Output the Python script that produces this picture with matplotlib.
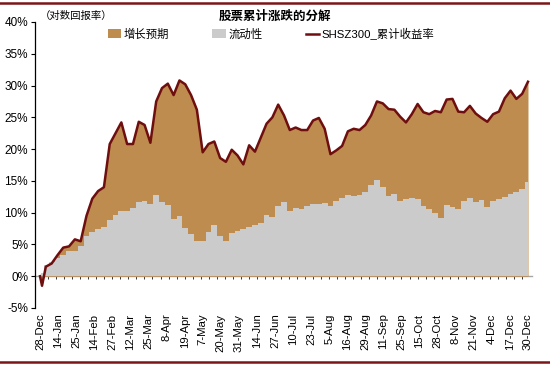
import matplotlib
matplotlib.use("Agg")
import matplotlib.pyplot as plt
import numpy as np
from matplotlib.lines import Line2D

plt.rcParams['font.family'] = ['Liberation Sans', 'Noto Sans CJK SC', 'DejaVu Sans']

# trading-day index of each sample (0 = 28-Dec, 243 = 30-Dec)
days = np.r_[0, 1, np.linspace(0, 243, 85)[1:]]

total = [0.0, -1.5, 1.5, 2.0, 3.3, 4.5, 4.7, 5.8, 5.5, 9.5, 12.2,
         13.4, 14.0, 20.8, 22.5, 24.2, 20.8, 20.8, 24.3, 23.8, 21.0,
         27.5, 29.6, 30.3, 28.5, 30.8, 30.2, 28.5, 26.2, 19.5, 20.8,
         21.2, 18.6, 18.0, 19.9, 19.0, 17.6, 20.6, 19.6, 21.8, 24.0,
         25.0, 27.0, 25.3, 23.0, 23.4, 23.0, 23.0, 24.5, 24.9, 23.2,
         19.2, 19.8, 20.5, 22.8, 23.2, 23.0, 23.8, 25.3, 27.5, 27.2,
         26.3, 26.2, 25.1, 24.2, 25.5, 27.1, 25.8, 25.5, 26.0, 25.8,
         27.8, 27.9, 25.9, 25.8, 26.8, 25.6, 24.9, 24.3, 25.5, 25.9,
         28.0, 29.2, 27.9, 28.7, 30.6]

liquidity = [0.0, 0.5, 1.8, 2.3, 2.8, 3.3, 4.0, 4.0, 4.8, 6.3, 6.9,
             7.4, 7.7, 8.8, 9.6, 10.3, 10.2, 10.8, 11.6, 11.8, 11.4,
             12.8, 11.7, 11.2, 9.0, 9.5, 7.6, 6.7, 5.6, 5.5, 7.0,
             8.0, 6.3, 5.5, 6.8, 7.1, 7.5, 7.8, 8.0, 8.3, 9.6,
             9.3, 11.0, 11.6, 10.3, 10.8, 10.5, 11.0, 11.3, 11.3, 11.5,
             11.0, 11.9, 12.3, 12.8, 12.6, 12.8, 13.2, 14.3, 15.2, 14.0,
             12.6, 12.9, 11.8, 12.2, 12.3, 12.2, 11.0, 10.5, 10.0, 9.2,
             11.2, 10.9, 10.5, 11.8, 12.3, 11.6, 12.0, 10.9, 11.8, 12.1,
             12.5, 12.9, 13.2, 13.8, 14.9]

date_labels = ['28-Dec', '14-Jan', '25-Jan', '14-Feb', '27-Feb', '12-Mar', '25-Mar',
               '8-Apr', '19-Apr', '7-May', '20-May', '31-May', '14-Jun', '27-Jun',
               '10-Jul', '23-Jul', '5-Aug', '16-Aug', '29-Aug', '11-Sep', '25-Sep',
               '15-Oct', '28-Oct', '8-Nov', '21-Nov', '4-Dec', '17-Dec', '30-Dec']
label_days = np.arange(0, 9 * len(date_labels), 9)

brown = '#BF8C4F'
grey = '#CBCBCB'
dark_red = '#6E0E0E'

fig = plt.figure(figsize=(5.5, 3.66), dpi=100)
ax = fig.add_axes([35 / 550, 1 - 308 / 366, 497 / 550, 286 / 366])

tot = np.array(total)
liq = np.array(liquidity)
ax.fill_between(days, 0, tot, color=brown, lw=0, label='增长预期')
ax.fill_between(days, 0, liq, color=grey, lw=0, step='mid', label='流动性')
ax.plot(days, tot, color=dark_red, lw=1.8, label='SHSZ300_累计收益率')

ax.set_xlim(-2.5, 245)
ax.set_ylim(-5, 40)
ax.set_yticks(np.arange(-5, 41, 5))
ax.set_yticklabels([f'{v}%' for v in range(-5, 41, 5)], fontsize=8.5)
ax.tick_params(axis='y', length=3, width=0.8, pad=2)

for s in ['top', 'right', 'bottom']:
    ax.spines[s].set_visible(False)
ax.spines['left'].set_linewidth(0.9)

ax.set_xticks(label_days)
ax.set_xticklabels(date_labels, rotation=90, fontsize=8.2)
ax.tick_params(axis='x', length=0, pad=4)

zero_axis = ax.secondary_xaxis(5 / 45)
zero_axis.set_xticks(np.arange(0, 244, 4))
zero_axis.set_xticklabels([])
zero_axis.tick_params(length=2.5, width=0.7, direction='out', colors='#333333')
zero_axis.spines['bottom'].set_color('#A6A6A6')
zero_axis.spines['bottom'].set_linewidth(1.0)

ax.legend(loc='upper center', bbox_to_anchor=(0.475, 1.0), ncol=3, frameon=False,
          fontsize=8.2, handlelength=1.2, handleheight=0.8, handletextpad=0.2,
          columnspacing=3.8, borderaxespad=0.1)

fig.text(40 / 550, 1 - 16 / 366, '（对数回报率）', fontsize=7.5, va='center')
fig.text(275 / 550, 1 - 17 / 366, '股票累计涨跌的分解', fontsize=9, va='center',
         ha='center', fontweight='bold')

fig.add_artist(Line2D([0, 1], [1 - 3 / 366, 1 - 3 / 366], color='#7A1518', lw=1.8))
fig.add_artist(Line2D([0, 1], [1 - 362 / 366, 1 - 362 / 366], color='#7A1518', lw=1.8))

fig.savefig('out.png', dpi=100)
